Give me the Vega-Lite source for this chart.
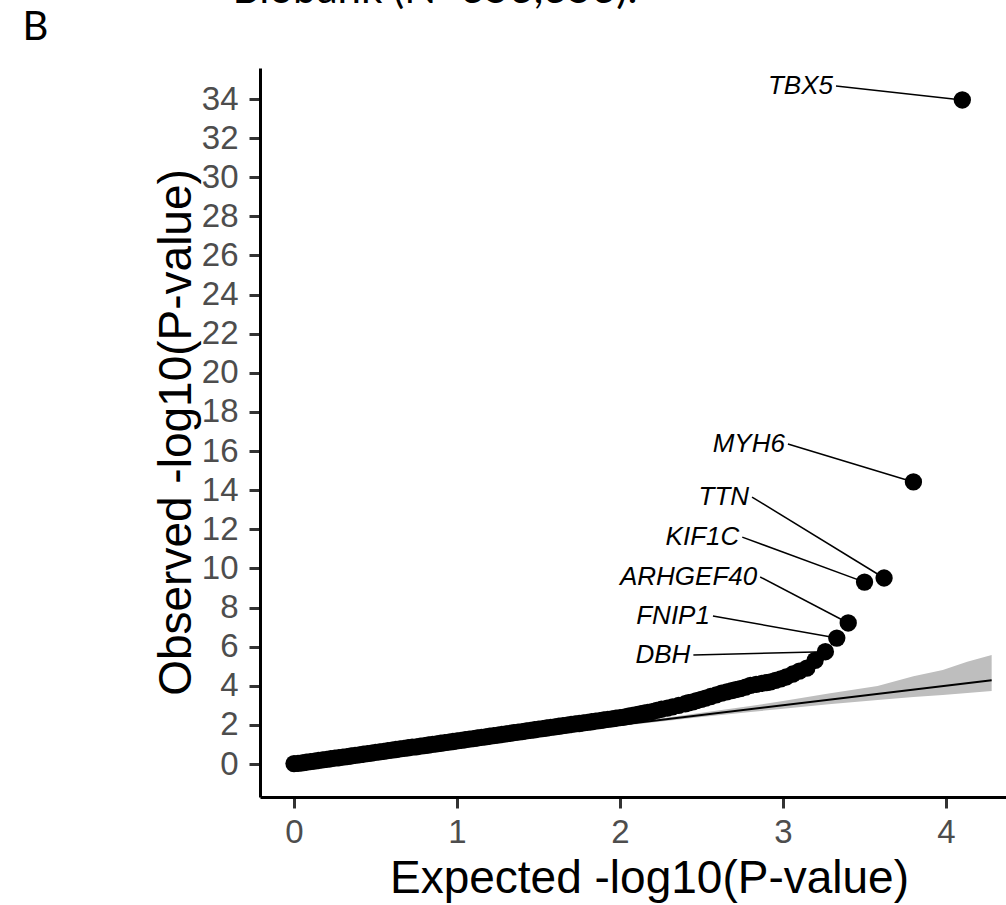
{
  "$schema": "https://vega.github.io/schema/vega-lite/v6.json",
  "width": 746,
  "height": 729,
  "autosize": {"type": "none"},
  "padding": {"left": 260, "top": 68, "right": 0, "bottom": 108},
  "background": "white",
  "config": {"view": {"stroke": null}, "axis": {"grid": false}},
  "datasets": {
    "band": [
      {"x": 1.5, "lo": 1.465, "hi": 1.535},
      {"x": 2.0, "lo": 1.94, "hi": 2.06},
      {"x": 2.28, "lo": 2.2, "hi": 2.37},
      {"x": 2.5, "lo": 2.4, "hi": 2.62},
      {"x": 2.8, "lo": 2.66, "hi": 2.97},
      {"x": 3.0, "lo": 2.82, "hi": 3.22},
      {"x": 3.28, "lo": 3.05, "hi": 3.6},
      {"x": 3.58, "lo": 3.27, "hi": 3.99},
      {"x": 3.8, "lo": 3.42, "hi": 4.49},
      {"x": 3.98, "lo": 3.53, "hi": 4.8},
      {"x": 4.13, "lo": 3.63, "hi": 5.23},
      {"x": 4.28, "lo": 3.73, "hi": 5.57}
    ],
    "ref": [{"x": 0, "y": 0}, {"x": 4.28, "y": 4.28}],
    "pts": [
      {"x": 0, "y": 0.02}, {"x": 0.025, "y": 0.03}, {"x": 0.05, "y": 0.06}, {"x": 0.075, "y": 0.09}, {"x": 0.1, "y": 0.12}, {"x": 0.125, "y": 0.15},
      {"x": 0.15, "y": 0.18}, {"x": 0.175, "y": 0.21}, {"x": 0.2, "y": 0.24}, {"x": 0.225, "y": 0.27}, {"x": 0.25, "y": 0.3}, {"x": 0.275, "y": 0.32},
      {"x": 0.3, "y": 0.35}, {"x": 0.325, "y": 0.38}, {"x": 0.35, "y": 0.41}, {"x": 0.375, "y": 0.44}, {"x": 0.4, "y": 0.47}, {"x": 0.425, "y": 0.5},
      {"x": 0.45, "y": 0.53}, {"x": 0.475, "y": 0.56}, {"x": 0.5, "y": 0.59}, {"x": 0.525, "y": 0.62}, {"x": 0.55, "y": 0.65}, {"x": 0.575, "y": 0.68},
      {"x": 0.6, "y": 0.71}, {"x": 0.625, "y": 0.74}, {"x": 0.65, "y": 0.77}, {"x": 0.675, "y": 0.8}, {"x": 0.7, "y": 0.83}, {"x": 0.725, "y": 0.86},
      {"x": 0.75, "y": 0.88}, {"x": 0.775, "y": 0.91}, {"x": 0.8, "y": 0.94}, {"x": 0.825, "y": 0.97}, {"x": 0.85, "y": 1.0}, {"x": 0.875, "y": 1.03},
      {"x": 0.9, "y": 1.06}, {"x": 0.925, "y": 1.09}, {"x": 0.95, "y": 1.12}, {"x": 0.975, "y": 1.15}, {"x": 1.0, "y": 1.18}, {"x": 1.025, "y": 1.21},
      {"x": 1.05, "y": 1.24}, {"x": 1.075, "y": 1.27}, {"x": 1.1, "y": 1.3}, {"x": 1.125, "y": 1.33}, {"x": 1.15, "y": 1.36}, {"x": 1.175, "y": 1.39},
      {"x": 1.2, "y": 1.42}, {"x": 1.225, "y": 1.45}, {"x": 1.25, "y": 1.48}, {"x": 1.275, "y": 1.51}, {"x": 1.3, "y": 1.54}, {"x": 1.325, "y": 1.57},
      {"x": 1.35, "y": 1.6}, {"x": 1.375, "y": 1.63}, {"x": 1.4, "y": 1.66}, {"x": 1.425, "y": 1.69}, {"x": 1.45, "y": 1.72}, {"x": 1.475, "y": 1.75},
      {"x": 1.5, "y": 1.78}, {"x": 1.525, "y": 1.81}, {"x": 1.55, "y": 1.84}, {"x": 1.575, "y": 1.87}, {"x": 1.6, "y": 1.9}, {"x": 1.625, "y": 1.93},
      {"x": 1.65, "y": 1.96}, {"x": 1.675, "y": 1.99}, {"x": 1.7, "y": 2.02}, {"x": 1.725, "y": 2.05}, {"x": 1.75, "y": 2.07}, {"x": 1.775, "y": 2.1},
      {"x": 1.8, "y": 2.13}, {"x": 1.825, "y": 2.16}, {"x": 1.85, "y": 2.19}, {"x": 1.875, "y": 2.22}, {"x": 1.9, "y": 2.25}, {"x": 1.925, "y": 2.28},
      {"x": 1.95, "y": 2.31}, {"x": 1.975, "y": 2.34}, {"x": 2.0, "y": 2.37}, {"x": 2.025, "y": 2.4}, {"x": 2.05, "y": 2.44}, {"x": 2.075, "y": 2.48},
      {"x": 2.1, "y": 2.52}, {"x": 2.123, "y": 2.56}, {"x": 2.146, "y": 2.6}, {"x": 2.17, "y": 2.64}, {"x": 2.197, "y": 2.68}, {"x": 2.225, "y": 2.74},
      {"x": 2.255, "y": 2.8}, {"x": 2.29, "y": 2.86}, {"x": 2.322, "y": 2.92}, {"x": 2.36, "y": 3.0}, {"x": 2.4, "y": 3.08}, {"x": 2.42, "y": 3.13},
      {"x": 2.447, "y": 3.18}, {"x": 2.47, "y": 3.24}, {"x": 2.498, "y": 3.3}, {"x": 2.525, "y": 3.37}, {"x": 2.556, "y": 3.45}, {"x": 2.59, "y": 3.53},
      {"x": 2.623, "y": 3.62}, {"x": 2.655, "y": 3.69}, {"x": 2.685, "y": 3.75}, {"x": 2.71, "y": 3.8}, {"x": 2.738, "y": 3.85}, {"x": 2.77, "y": 3.93},
      {"x": 2.8, "y": 4.02}, {"x": 2.835, "y": 4.07}, {"x": 2.87, "y": 4.12}, {"x": 2.9, "y": 4.16}, {"x": 2.924, "y": 4.2}, {"x": 2.954, "y": 4.28},
      {"x": 2.986, "y": 4.35}, {"x": 3.02, "y": 4.45}, {"x": 3.06, "y": 4.6}, {"x": 3.1, "y": 4.75}, {"x": 3.146, "y": 4.9}, {"x": 3.197, "y": 5.3}
    ],
    "genes": [
      {"gene": "TBX5", "x": 4.1, "y": 33.95, "lx": 3.325, "ly": 34.66},
      {"gene": "MYH6", "x": 3.8, "y": 14.42, "lx": 3.03, "ly": 16.36},
      {"gene": "TTN", "x": 3.62, "y": 9.51, "lx": 2.81, "ly": 13.65},
      {"gene": "KIF1C", "x": 3.5, "y": 9.3, "lx": 2.75, "ly": 11.6},
      {"gene": "ARHGEF40", "x": 3.4, "y": 7.21, "lx": 2.86, "ly": 9.56},
      {"gene": "FNIP1", "x": 3.33, "y": 6.44, "lx": 2.57, "ly": 7.57},
      {"gene": "DBH", "x": 3.26, "y": 5.74, "lx": 2.45, "ly": 5.57}
    ]
  },
  "resolve": {"axis": {"x": "independent"}},
  "layer": [
    {
      "data": {"name": "band"},
      "mark": {"type": "area", "color": "#bebebe", "opacity": 1},
      "encoding": {
        "x": {"field": "x", "type": "quantitative", "scale": {"domain": [-0.2086, 4.368], "nice": false, "zero": false},
          "axis": {"values": [0, 1, 2, 3, 4], "format": "d", "title": "Expected -log10(P-value)", "grid": false,
            "domainColor": "black", "domainWidth": 3, "tickColor": "#333333", "tickWidth": 3, "tickSize": 11,
            "labelFont": "Liberation Sans", "labelFontSize": 33, "labelColor": "#4d4d4d", "labelPadding": 8,
            "titleFont": "Liberation Sans", "titleFontSize": 46, "titleFontWeight": "normal", "titleColor": "black",
            "titleX": 389, "titleY": 95, "titleBaseline": "alphabetic", "titleAlign": "center"}},
        "y": {"field": "lo", "type": "quantitative", "scale": {"domain": [-1.687, 35.585], "nice": false, "zero": false},
          "axis": {"values": [0, 2, 4, 6, 8, 10, 12, 14, 16, 18, 20, 22, 24, 26, 28, 30, 32, 34], "format": "d", "title": "Observed -log10(P-value)", "grid": false,
            "domainColor": "black", "domainWidth": 3, "tickColor": "#333333", "tickWidth": 3, "tickSize": 11,
            "labelFont": "Liberation Sans", "labelFontSize": 33, "labelColor": "#4d4d4d", "labelPadding": 11,
            "titleFont": "Liberation Sans", "titleFontSize": 46, "titleFontWeight": "normal", "titleColor": "black",
            "titleX": -70, "titleY": 364, "titleAngle": -90, "titleBaseline": "alphabetic", "titleAlign": "center"}},
        "y2": {"field": "hi"}
      }
    },
    {
      "data": {"name": "ref"},
      "mark": {"type": "line", "color": "black", "strokeWidth": 2},
      "encoding": {
        "x": {"field": "x", "type": "quantitative", "scale": {"domain": [-0.2086, 4.368], "nice": false, "zero": false},
          "axis": {"orient": "top", "title": "Biobank (N=353,353).", "labels": false, "ticks": false, "domain": false, "grid": false,
            "titleX": -28, "titleY": -66, "titleAlign": "left", "titleAngle": 0, "titleBaseline": "alphabetic",
            "titleFont": "Lato", "titleFontSize": 42, "titleFontWeight": "normal", "titleColor": "black"}},
        "y": {"field": "y", "type": "quantitative", "scale": {"domain": [-1.687, 35.585], "nice": false, "zero": false},
          "axis": {"values": [0, 2, 4, 6, 8, 10, 12, 14, 16, 18, 20, 22, 24, 26, 28, 30, 32, 34], "format": "d", "title": "Observed -log10(P-value)", "grid": false,
            "domainColor": "black", "domainWidth": 3, "tickColor": "#333333", "tickWidth": 3, "tickSize": 11,
            "labelFont": "Liberation Sans", "labelFontSize": 33, "labelColor": "#4d4d4d", "labelPadding": 11,
            "titleFont": "Liberation Sans", "titleFontSize": 46, "titleFontWeight": "normal", "titleColor": "black",
            "titleX": -70, "titleY": 364, "titleAngle": -90, "titleBaseline": "alphabetic", "titleAlign": "center"}}
      }
    },
    {
      "data": {"name": "genes"},
      "mark": {"type": "rule", "color": "black", "strokeWidth": 1.5},
      "encoding": {
        "x": {"field": "lx", "type": "quantitative", "scale": {"domain": [-0.2086, 4.368], "nice": false, "zero": false},
          "axis": {"orient": "top", "title": "B", "labels": false, "ticks": false, "domain": false, "grid": false,
            "titleX": -238, "titleY": -29, "titleAlign": "left", "titleAngle": 0, "titleBaseline": "alphabetic",
            "titleFont": "Lato", "titleFontSize": 40, "titleFontWeight": "normal", "titleColor": "black"}},
        "y": {"field": "ly", "type": "quantitative", "scale": {"domain": [-1.687, 35.585], "nice": false, "zero": false},
          "axis": {"values": [0, 2, 4, 6, 8, 10, 12, 14, 16, 18, 20, 22, 24, 26, 28, 30, 32, 34], "format": "d", "title": "Observed -log10(P-value)", "grid": false,
            "domainColor": "black", "domainWidth": 3, "tickColor": "#333333", "tickWidth": 3, "tickSize": 11,
            "labelFont": "Liberation Sans", "labelFontSize": 33, "labelColor": "#4d4d4d", "labelPadding": 11,
            "titleFont": "Liberation Sans", "titleFontSize": 46, "titleFontWeight": "normal", "titleColor": "black",
            "titleX": -70, "titleY": 364, "titleAngle": -90, "titleBaseline": "alphabetic", "titleAlign": "center"}},
        "x2": {"field": "x"},
        "y2": {"field": "y"}
      }
    },
    {
      "data": {"name": "pts"},
      "mark": {"type": "circle", "color": "black", "opacity": 1, "size": 300},
      "encoding": {
        "x": {"field": "x", "type": "quantitative", "scale": {"domain": [-0.2086, 4.368], "nice": false, "zero": false}, "axis": null},
        "y": {"field": "y", "type": "quantitative", "scale": {"domain": [-1.687, 35.585], "nice": false, "zero": false},
          "axis": {"values": [0, 2, 4, 6, 8, 10, 12, 14, 16, 18, 20, 22, 24, 26, 28, 30, 32, 34], "format": "d", "title": "Observed -log10(P-value)", "grid": false,
            "domainColor": "black", "domainWidth": 3, "tickColor": "#333333", "tickWidth": 3, "tickSize": 11,
            "labelFont": "Liberation Sans", "labelFontSize": 33, "labelColor": "#4d4d4d", "labelPadding": 11,
            "titleFont": "Liberation Sans", "titleFontSize": 46, "titleFontWeight": "normal", "titleColor": "black",
            "titleX": -70, "titleY": 364, "titleAngle": -90, "titleBaseline": "alphabetic", "titleAlign": "center"}}
      }
    },
    {
      "data": {"name": "genes"},
      "mark": {"type": "circle", "color": "black", "opacity": 1, "size": 300},
      "encoding": {
        "x": {"field": "x", "type": "quantitative", "scale": {"domain": [-0.2086, 4.368], "nice": false, "zero": false}, "axis": null},
        "y": {"field": "y", "type": "quantitative", "scale": {"domain": [-1.687, 35.585], "nice": false, "zero": false},
          "axis": {"values": [0, 2, 4, 6, 8, 10, 12, 14, 16, 18, 20, 22, 24, 26, 28, 30, 32, 34], "format": "d", "title": "Observed -log10(P-value)", "grid": false,
            "domainColor": "black", "domainWidth": 3, "tickColor": "#333333", "tickWidth": 3, "tickSize": 11,
            "labelFont": "Liberation Sans", "labelFontSize": 33, "labelColor": "#4d4d4d", "labelPadding": 11,
            "titleFont": "Liberation Sans", "titleFontSize": 46, "titleFontWeight": "normal", "titleColor": "black",
            "titleX": -70, "titleY": 364, "titleAngle": -90, "titleBaseline": "alphabetic", "titleAlign": "center"}}
      }
    },
    {
      "data": {"name": "genes"},
      "mark": {"type": "text", "align": "right", "baseline": "middle", "dx": -3, "font": "Liberation Sans", "fontStyle": "italic", "fontSize": 26, "color": "black"},
      "encoding": {
        "x": {"field": "lx", "type": "quantitative", "scale": {"domain": [-0.2086, 4.368], "nice": false, "zero": false}, "axis": null},
        "y": {"field": "ly", "type": "quantitative", "scale": {"domain": [-1.687, 35.585], "nice": false, "zero": false},
          "axis": {"values": [0, 2, 4, 6, 8, 10, 12, 14, 16, 18, 20, 22, 24, 26, 28, 30, 32, 34], "format": "d", "title": "Observed -log10(P-value)", "grid": false,
            "domainColor": "black", "domainWidth": 3, "tickColor": "#333333", "tickWidth": 3, "tickSize": 11,
            "labelFont": "Liberation Sans", "labelFontSize": 33, "labelColor": "#4d4d4d", "labelPadding": 11,
            "titleFont": "Liberation Sans", "titleFontSize": 46, "titleFontWeight": "normal", "titleColor": "black",
            "titleX": -70, "titleY": 364, "titleAngle": -90, "titleBaseline": "alphabetic", "titleAlign": "center"}},
        "text": {"field": "gene"}
      }
    }
  ]
}
